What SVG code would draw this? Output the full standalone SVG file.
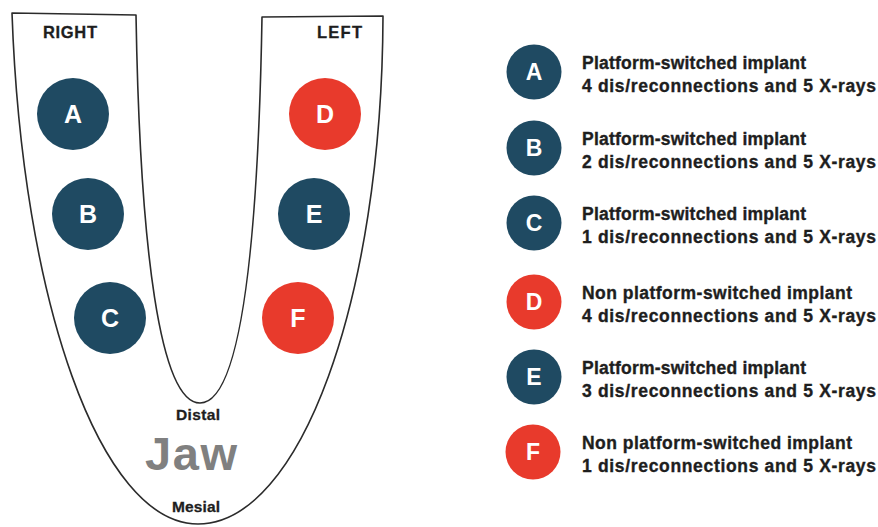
<svg xmlns="http://www.w3.org/2000/svg" width="878" height="527" viewBox="0 0 878 527">
  <style>
    .jaw { fill: #ffffff; stroke: #2b2b2b; stroke-width: 1.6; stroke-linejoin: round; }
    .side { font-family: "Liberation Sans", Arial, sans-serif; font-weight: bold; font-size: 16.5px; fill: #1e1e1e; stroke: #1e1e1e; stroke-width: 0.3; }
    .pos { font-family: "Liberation Sans", Arial, sans-serif; font-weight: bold; font-size: 15.5px; fill: #1e1e1e; stroke: #1e1e1e; stroke-width: 0.3; }
    .title { font-family: "Liberation Sans", Arial, sans-serif; font-weight: bold; font-size: 47px; fill: #808080; }
    .blue { fill: #1f4a62; }
    .red { fill: #e83a2c; }
    .tag { font-family: "Liberation Sans", Arial, sans-serif; font-weight: bold; font-size: 25px; fill: #ffffff; text-anchor: middle; }
    .ltag { font-family: "Liberation Sans", Arial, sans-serif; font-weight: bold; font-size: 23px; fill: #ffffff; text-anchor: middle; }
    .desc { font-family: "Liberation Sans", Arial, sans-serif; font-weight: bold; font-size: 17.5px; fill: #1e1e1e; stroke: #1e1e1e; stroke-width: 0.35; }
  </style>

  <!-- Jaw outline: U-shaped arch with two arms -->
  <g id="jaw">
    <path class="jaw" d="M 12 13 L 136 15 C 140 250, 160 403, 200 403 C 240 403, 258 250, 262 17 L 383 16 C 382 300, 300 524, 198 524 C 100 524, 22 300, 12 13 Z"/>
    <text class="side" x="43" y="38" textLength="54" lengthAdjust="spacing">RIGHT</text>
    <text class="side" x="317" y="38" textLength="45" lengthAdjust="spacing">LEFT</text>
    <text class="pos" x="176" y="420" textLength="44" lengthAdjust="spacing">Distal</text>
    <text class="title" x="145" y="470" textLength="92" lengthAdjust="spacing">Jaw</text>
    <text class="pos" x="172" y="512" textLength="48" lengthAdjust="spacing">Mesial</text>
  </g>

  <!-- Implant sites in the jaw -->
  <g id="site-a"><circle class="blue" cx="73" cy="114" r="36"/><text class="tag" x="73" y="123">A</text></g>
  <g id="site-b"><circle class="blue" cx="88" cy="214" r="36"/><text class="tag" x="88" y="223">B</text></g>
  <g id="site-c"><circle class="blue" cx="110" cy="318" r="36"/><text class="tag" x="110" y="327">C</text></g>
  <g id="site-d"><circle class="red" cx="325" cy="114" r="36"/><text class="tag" x="325" y="123">D</text></g>
  <g id="site-e"><circle class="blue" cx="314" cy="214" r="36"/><text class="tag" x="314" y="223">E</text></g>
  <g id="site-f"><circle class="red" cx="298" cy="318" r="36"/><text class="tag" x="298" y="327">F</text></g>

  <!-- Legend -->
  <g id="legend-a">
    <circle class="blue" cx="534" cy="72" r="27.5"/><text class="ltag" x="534" y="80">A</text>
    <text class="desc" x="582" y="69" textLength="224" lengthAdjust="spacing">Platform-switched implant</text>
    <text class="desc" x="582" y="92" textLength="294" lengthAdjust="spacing">4 dis/reconnections and 5 X-rays</text>
  </g>
  <g id="legend-b">
    <circle class="blue" cx="534" cy="148" r="27.5"/><text class="ltag" x="534" y="156">B</text>
    <text class="desc" x="582" y="145" textLength="224" lengthAdjust="spacing">Platform-switched implant</text>
    <text class="desc" x="582" y="168" textLength="294" lengthAdjust="spacing">2 dis/reconnections and 5 X-rays</text>
  </g>
  <g id="legend-c">
    <circle class="blue" cx="534" cy="223" r="27.5"/><text class="ltag" x="534" y="231">C</text>
    <text class="desc" x="582" y="220" textLength="224" lengthAdjust="spacing">Platform-switched implant</text>
    <text class="desc" x="582" y="243" textLength="294" lengthAdjust="spacing">1 dis/reconnections and 5 X-rays</text>
  </g>
  <g id="legend-d">
    <circle class="red" cx="534" cy="302" r="27.5"/><text class="ltag" x="534" y="310">D</text>
    <text class="desc" x="582" y="299" textLength="270" lengthAdjust="spacing">Non platform-switched implant</text>
    <text class="desc" x="582" y="322" textLength="294" lengthAdjust="spacing">4 dis/reconnections and 5 X-rays</text>
  </g>
  <g id="legend-e">
    <circle class="blue" cx="534" cy="377" r="27.5"/><text class="ltag" x="534" y="385">E</text>
    <text class="desc" x="582" y="374" textLength="224" lengthAdjust="spacing">Platform-switched implant</text>
    <text class="desc" x="582" y="397" textLength="294" lengthAdjust="spacing">3 dis/reconnections and 5 X-rays</text>
  </g>
  <g id="legend-f">
    <circle class="red" cx="533" cy="452" r="27.5"/><text class="ltag" x="533" y="460">F</text>
    <text class="desc" x="582" y="449" textLength="270" lengthAdjust="spacing">Non platform-switched implant</text>
    <text class="desc" x="582" y="472" textLength="294" lengthAdjust="spacing">1 dis/reconnections and 5 X-rays</text>
  </g>
</svg>
